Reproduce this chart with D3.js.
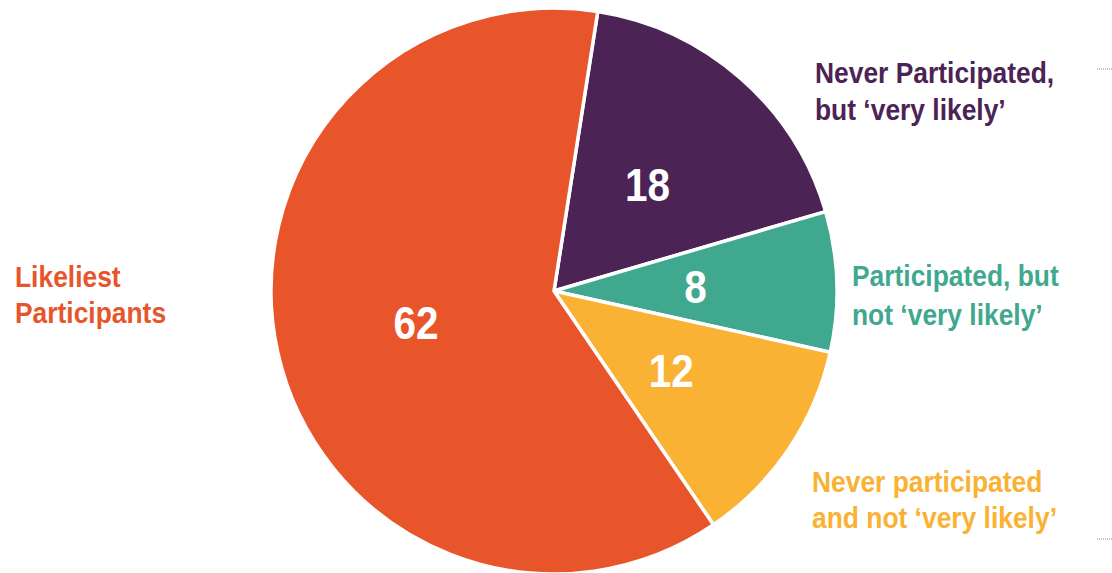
<!DOCTYPE html>
<html>
<head>
<meta charset="utf-8">
<script src="https://cdn.jsdelivr.net/npm/d3@7"></script>
<style>
  html, body { margin: 0; padding: 0; background: #fff; }
  svg { display: block; }
</style>
</head>
<body>
<svg id="chart" width="1112" height="573"></svg>
<script>
// Segment data, in drawing order (clockwise from the top)
const categories = [
  "Never Participated, but \u2018very likely\u2019",
  "Participated, but not \u2018very likely\u2019",
  "Never participated and not \u2018very likely\u2019",
  "Likeliest Participants"
];
const values = [18, 8, 12, 62];
const colors = ["#4B2354", "#3FA88F", "#F9B233", "#E8552B"];
// Category labels, split over two lines
const labelLines = [
  ["Never Participated,", "but \u2018very likely\u2019"],
  ["Participated, but", "not \u2018very likely\u2019"],
  ["Never participated", "and not \u2018very likely\u2019"],
  ["Likeliest", "Participants"]
];

const svg = d3.select("#chart");
const font = "'Liberation Sans', Arial, sans-serif";
const narrow = 0.88; // horizontal squeeze for a condensed bold look

const cx = 554, cy = 291, radius = 283;
const startAngle = 8.9 * Math.PI / 180;

const pie = d3.pie()
  .value(d => d)
  .sort(null)
  .startAngle(startAngle)
  .endAngle(startAngle + 2 * Math.PI);

const arc = d3.arc().innerRadius(0).outerRadius(radius);
const labelArc = d3.arc().innerRadius(radius * 0.5).outerRadius(radius * 0.5);

const g = svg.append("g").attr("transform", `translate(${cx},${cy})`);
const arcs = pie(values);

g.selectAll("path.slice")
  .data(arcs)
  .join("path")
  .attr("class", "slice")
  .attr("d", arc)
  .attr("fill", (d, i) => colors[i])
  .attr("stroke", "#fff")
  .attr("stroke-width", 3.5)
  .attr("stroke-linejoin", "miter");

// Value labels inside slices
g.selectAll("text.value")
  .data(arcs)
  .join("text")
  .attr("class", "value")
  .attr("transform", d => {
    const [x, y] = labelArc.centroid(d);
    return `translate(${x},${y}) scale(${narrow},1)`;
  })
  .attr("text-anchor", "middle")
  .attr("dy", "0.36em")
  .attr("fill", "#fff")
  .attr("font-family", font)
  .attr("font-weight", "bold")
  .attr("font-size", 46)
  .text(d => d.data);

// Category labels outside the pie
const labelPos = [
  { x: 815, y: 83 },
  { x: 852, y: 286 },
  { x: 812, y: 492 },
  { x: 15, y: 287 }
];
const lineGap = [37, 39, 36, 36];

labelLines.forEach((lines, i) => {
  const t = svg.append("text")
    .attr("transform", `translate(${labelPos[i].x},${labelPos[i].y}) scale(${narrow},1)`)
    .attr("fill", colors[i])
    .attr("font-family", font)
    .attr("font-weight", "bold")
    .attr("font-size", 30);
  lines.forEach((line, j) => {
    t.append("tspan")
      .attr("x", 0)
      .attr("y", j * lineGap[i])
      .text(line);
  });
});

// Faint dotted edge marks on the right
[69, 539].forEach(y => {
  svg.append("line")
    .attr("x1", 1097).attr("x2", 1112)
    .attr("y1", y).attr("y2", y)
    .attr("stroke", "#888")
    .attr("stroke-width", 1)
    .attr("stroke-dasharray", "1,1");
});
</script>
</body>
</html>
